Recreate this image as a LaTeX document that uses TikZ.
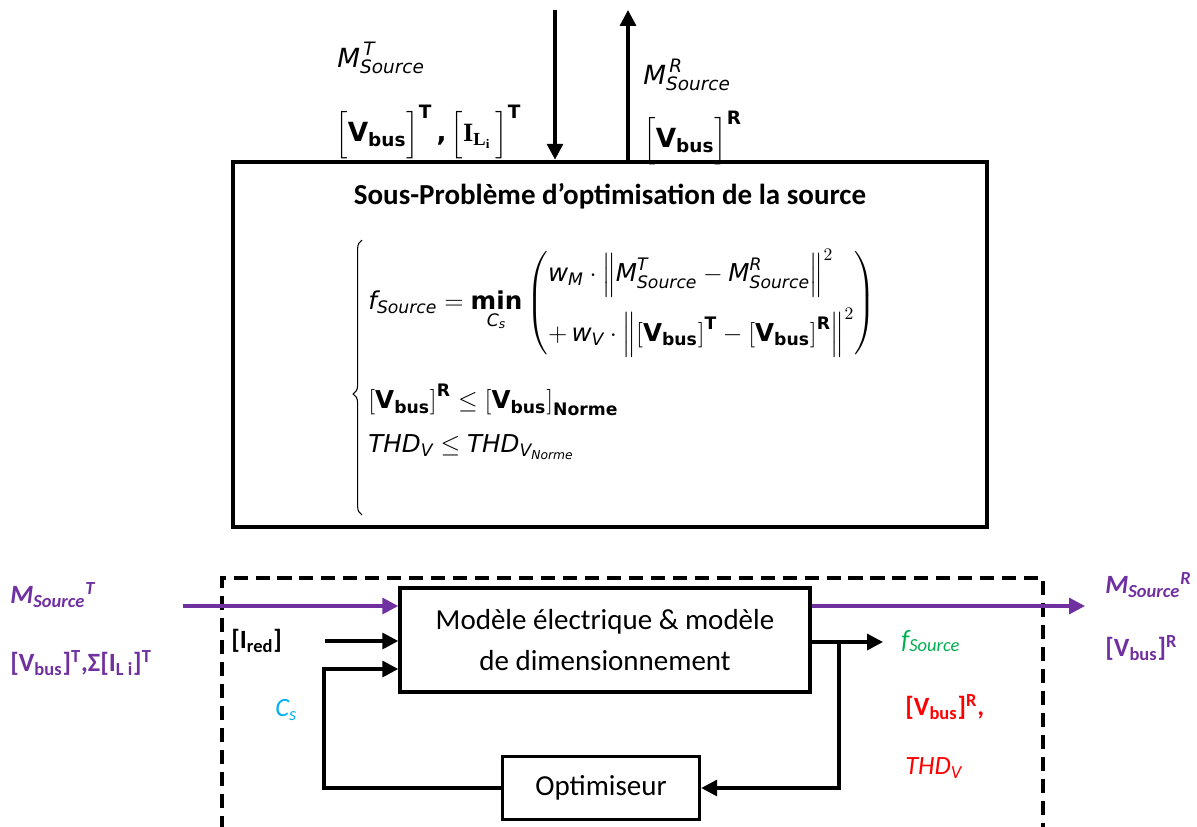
\documentclass[tikz,border=0pt]{standalone}
\usepackage{amsmath,amssymb}
\usepackage{xcolor}
\usepackage{fontspec}
\setmainfont{Carlito}
\newfontfamily\eqfont{DejaVu Sans}
\newfontfamily\serfont{Liberation Serif}
\usepackage{tikz}
\usetikzlibrary{arrows.meta,decorations.pathreplacing}

\definecolor{violet}{HTML}{7030A0}
\definecolor{vert}{HTML}{00B050}
\definecolor{rouge}{HTML}{FF0000}
\definecolor{ciel}{HTML}{00B0F0}

\newcommand{\vi}[1]{\text{\eqfont\itshape #1}}
\newcommand{\vb}[1]{\text{\eqfont\bfseries #1}}
\newcommand{\serb}[1]{\text{\serfont\bfseries #1}}
\newcommand{\Vbus}{\left[\vb{V}_{\vb{bus}}\right]}
\newcommand{\VbusG}{\Bigl[\vb{V}_{\vb{bus}}\Bigr]}

\tikzset{
  arr/.style={line width=1.9pt, -{Triangle[length=9pt,width=9pt]}},
  parr/.style={arr, draw=violet},
  bloc/.style={draw, line width=2pt, align=center, font=\fontsize{16.5}{23}\selectfont},
  eq/.style={anchor=west, inner sep=0pt, font=\fontsize{14}{17}\selectfont},
  lbl/.style={anchor=west, inner sep=0pt, font=\fontsize{15}{18}\selectfont}
}

\begin{document}
\begin{tikzpicture}[x=0.02cm,y=-0.02cm]
	\useasboundingbox (0,0) rectangle (1197,826);

	% sous-probleme
	\node[draw, line width=2.7pt, minimum width=15.08cm, minimum height=7.3cm] (pb) at (610,344.5) {};
	\node[font=\fontsize{16.5}{18}\selectfont\bfseries] (titre) at (610,196) {Sous-Problème d’optimisation de la source};

	\coordinate (inT) at (555,10);
	\coordinate (outT) at (628,10);
	\draw[arr] (inT) -- (inT |- pb.north);
	\draw[arr] (outT |- pb.north) -- (outT);

	\node[eq, font=\fontsize{15}{18}\selectfont] (mt) at (337,58) {$\vi{M}^{\,\vi{T}}_{\vi{Source}}$};
	\node[eq, font=\fontsize{15}{18}\selectfont] (vt) at (335,132) {$\VbusG^{\vb{T}}\,\vb{,}\,\Bigl[\serb{I}_{\serb{L}_{\serb{i}}}\,\Bigr]^{\vb{T}}$};
	\node[eq, font=\fontsize{15}{18}\selectfont] (mr) at (643,75) {$\vi{M}^{\,\vi{R}}_{\vi{Source}}$};
	\node[eq, font=\fontsize{15}{18}\selectfont] (vr) at (643,138) {$\VbusG^{\vb{R}}$};

	% formulation
	\node[eq] (fobj) at (368,303) {$\vi{f}_{\vi{Source}} = \mathop{\vb{min}}\limits_{\vi{C}_{\vi{s}}}
		\left(\begin{array}{@{}l@{}}
		\vi{w}_{\vi{M}} \cdot \left\| \vi{M}^{\vi{T}}_{\vi{Source}} - \vi{M}^{\vi{R}}_{\vi{Source}} \right\|^2 \\[10pt]
		+\, \vi{w}_{\vi{V}} \cdot \left\| \Vbus^{\vb{T}} - \Vbus^{\vb{R}} \right\|^2
		\end{array}\right)$};
	\node[eq] (c1) at (368,400) {$\Vbus^{\vb{R}} \le \Vbus_{\vb{Norme}}$};
	\node[eq] (c2) at (368,447) {$\vi{THD}_{\vi{V}} \le \vi{THD}_{\vi{V}_{\vi{Norme}}}$};
	\draw[line width=0.6pt, decorate, decoration={brace, amplitude=5pt, aspect=0.44}] (362,515) -- (362,240);

	% boucle d'optimisation
	\draw[line width=1.9pt, dash pattern=on 8pt off 4.5pt] (222,830) -- (222,578) -- (1043,578) -- (1043,830);
	\node[bloc, minimum width=8.2cm, minimum height=2.08cm] (mod) at (605,640) {Modèle électrique \& modèle\\de dimensionnement};
	\node[bloc, minimum width=3.94cm, minimum height=1.26cm] (opt) at (601,788) {Optimiseur};

	\coordinate (mIn) at (183,606);
	\coordinate (mOut) at (1085,606);
	\coordinate (iIn) at (325,641);
	\coordinate (fOut) at (883,642);
	\coordinate (br) at (839,642);
	\coordinate (csIn) at (324,669);

	\draw[parr] (mIn) -- (mIn -| mod.west);
	\draw[parr] (mIn -| mod.east) -- (mOut);
	\draw[arr] (iIn) -- (iIn -| mod.west);
	\draw[arr] (fOut -| mod.east) -- (fOut);
	\draw[arr] (br) |- (opt.east);
	\draw[arr] (opt.west) -| (csIn) -- (csIn -| mod.west);

	\node[lbl, text=violet, font=\fontsize{15}{18}\selectfont\bfseries\itshape] (mst) at (10,595) {M\textsubscript{Source}\textsuperscript{T}};
	\node[lbl, text=violet, font=\fontsize{15}{18}\selectfont\bfseries] (vst) at (10,663) {[V\textsubscript{bus}]\textsuperscript{T},Σ[I\textsubscript{L i}]\textsuperscript{T}};
	\node[lbl, font=\fontsize{15}{18}\selectfont\bfseries] (ired) at (231,641) {[I\textsubscript{red}]};
	\node[lbl, text=ciel, font=\fontsize{15}{18}\selectfont\itshape] (cs) at (275,710) {C\textsubscript{s}};
	\node[lbl, text=vert, font=\fontsize{15}{18}\selectfont\itshape] (fs) at (901,641) {f\textsubscript{Source}};
	\node[lbl, text=rouge, font=\fontsize{15}{18}\selectfont\bfseries] (vbr) at (905,707) {[V\textsubscript{bus}]\textsuperscript{R},};
	\node[lbl, text=rouge, font=\fontsize{15}{18}\selectfont\itshape] (thd) at (905,768) {THD\textsubscript{V}};
	\node[lbl, text=violet, font=\fontsize{15}{18}\selectfont\bfseries\itshape] (msr) at (1105,585) {M\textsubscript{Source}\textsuperscript{R}};
	\node[lbl, text=violet, font=\fontsize{15}{18}\selectfont\bfseries] (vsr) at (1105,648) {[V\textsubscript{bus}]\textsuperscript{R}};
\end{tikzpicture}
\end{document}
